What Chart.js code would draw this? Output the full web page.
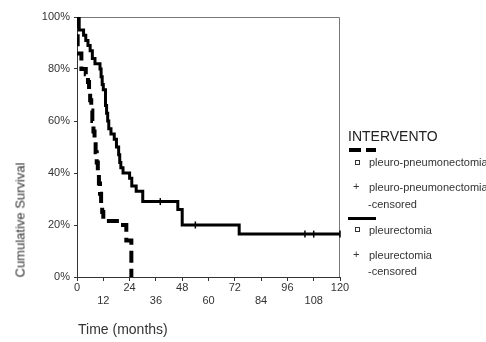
<!DOCTYPE html>
<html>
<head>
<meta charset="utf-8">
<script src="https://cdn.jsdelivr.net/npm/chart.js@4"></script>
<style>
  body { margin: 0; background: #fff; font-family: "Liberation Sans", Arial, sans-serif; }
  #wrap { position: relative; width: 486px; height: 342px; overflow: hidden; }
  canvas { position: absolute; left: 0; top: 0; }
  .t { position: absolute; color: #333; white-space: nowrap; font-size: 11px; line-height: 1; }
  .sq { position: absolute; width: 3px; height: 3px; border: 1px solid #333; }
  .ln { position: absolute; height: 3px; background: #000; }
</style>
</head>
<body>
<div id="wrap">
  <canvas id="c" width="486" height="342"></canvas>

  <div class="t" style="left:20px;top:220px;font-size:13px;transform:translate(-50%,-50%) rotate(-90deg)">Cumulative Survival</div>
  <div class="t" style="left:78px;top:322px;font-size:14px">Time (months)</div>

  <div class="t" style="left:348px;top:129px;font-size:14px;color:#222">INTERVENTO</div>
  <div class="ln" style="left:349px;top:148px;width:12px;height:4px"></div>
  <div class="ln" style="left:366px;top:148px;width:10px;height:4px"></div>
  <div class="sq" style="left:355px;top:160px"></div>
  <div class="t" style="left:369px;top:157px">pleuro-pneumonectomia</div>
  <div class="t" style="left:353px;top:181px">+</div>
  <div class="t" style="left:369px;top:182px">pleuro-pneumonectomia</div>
  <div class="t" style="left:368px;top:199px">-censored</div>
  <div class="ln" style="left:348px;top:217px;width:28px"></div>
  <div class="sq" style="left:355px;top:227px"></div>
  <div class="t" style="left:369px;top:225px">pleurectomia</div>
  <div class="t" style="left:353px;top:249px">+</div>
  <div class="t" style="left:369px;top:250px">pleurectomia</div>
  <div class="t" style="left:368px;top:266px">-censored</div>
</div>
<script>
// pleuro-pneumonectomia (dashed)
const ppTimes = [0, 0.3, 2, 4, 5, 5.5, 6, 6.5, 7, 7.5, 8, 8.5, 9, 9.5, 10, 10.5, 11, 11.5, 12, 21, 22.5, 24.8];
const ppSurv  = [100, 86, 80, 78, 75, 72, 68, 64, 60, 56, 52, 48, 44, 40, 36, 32, 28, 25, 21.5, 20, 14, 0];

// pleurectomia (solid)
const plTimes = [0, 1, 3, 4, 5, 6, 7, 8.2, 10.5, 11, 11.5, 12, 13, 13.5, 14, 14.5, 15.5, 17, 18, 19, 19.5, 20, 21, 24, 25, 27, 30, 46, 48, 74, 120];
const plSurv  = [100, 95, 93, 91, 89, 87, 84, 82, 80, 77, 74, 72, 66, 63, 60, 57, 55, 53, 50, 47, 44, 42, 40, 38, 35, 33, 29, 26, 20, 16.5, 16.5];

// censored pleurectomia
const plCensT = [38, 54, 104, 108, 120];
const plCensS = [29, 20, 16.5, 16.5, 16.5];

const xTicks = [0, 12, 24, 36, 48, 60, 72, 84, 96, 108, 120];
const yTicks = [0, 20, 40, 60, 80, 100];

const toXY = (ts, ss) => ts.map((t, i) => ({ x: t, y: ss[i] }));

const frame = {
  id: 'frame',
  beforeDatasetsDraw(chart) {
    const a = chart.chartArea, ctx = chart.ctx;
    ctx.save();
    ctx.strokeStyle = '#777';
    ctx.lineWidth = 1;
    ctx.beginPath();
    ctx.moveTo(a.left, a.top + 0.5);
    ctx.lineTo(a.right - 0.5, a.top + 0.5);
    ctx.lineTo(a.right - 0.5, a.bottom);
    ctx.stroke();
    ctx.restore();
  }
};

new Chart(document.getElementById('c'), {
  type: 'line',
  data: {
    datasets: [
      {
        data: toXY(ppTimes, ppSurv),
        stepped: 'before',
        borderColor: '#000',
        borderWidth: 4,
        borderDash: [12, 6],
        pointRadius: 0,
        fill: false
      },
      {
        data: toXY(plTimes, plSurv),
        stepped: 'before',
        borderColor: '#000',
        borderWidth: 3,
        pointRadius: 0,
        fill: false
      },
      {
        type: 'scatter',
        data: toXY(plCensT, plCensS),
        pointStyle: 'line',
        rotation: 90,
        radius: 3.5,
        borderWidth: 1.5,
        borderColor: '#000',
        clip: false
      }
    ]
  },
  options: {
    responsive: false,
    animation: false,
    layout: { padding: { top: 17, right: 146, left: 0, bottom: 0 } },
    plugins: { legend: { display: false }, tooltip: { enabled: false } },
    scales: {
      x: {
        type: 'linear',
        min: 0,
        max: 120,
        afterBuildTicks: s => { s.ticks = xTicks.map(v => ({ value: v })); },
        afterFit: s => { s.height = 65; },
        ticks: {
          autoSkip: false,
          maxRotation: 0,
          padding: 0,
          color: '#333',
          font: { size: 11, family: 'Liberation Sans' },
          callback: (v, i) => (i % 2 === 0 ? [String(v), ''] : ['', String(v)])
        },
        grid: { drawOnChartArea: false, tickLength: 4, tickColor: '#333' },
        border: { color: '#333' }
      },
      y: {
        min: 0,
        max: 100,
        afterBuildTicks: s => { s.ticks = yTicks.map(v => ({ value: v })); },
        afterFit: s => { s.width = 77; },
        ticks: {
          padding: 4,
          color: '#333',
          font: { size: 11, family: 'Liberation Sans' },
          callback: v => v + '%'
        },
        grid: { drawOnChartArea: false, tickLength: 3, tickColor: '#333' },
        border: { color: '#333' }
      }
    }
  },
  plugins: [frame]
});
</script>
</body>
</html>
